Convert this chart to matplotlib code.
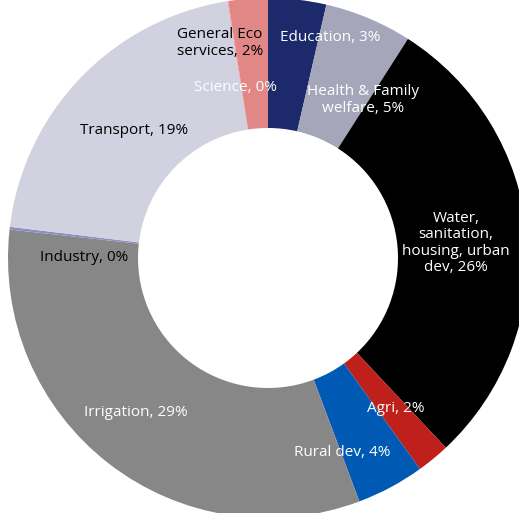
import matplotlib
matplotlib.use("Agg")
import matplotlib.pyplot as plt

# sectors, clockwise from 12 o'clock
sectors = ["Education", "Health & Family\nwelfare", "Water,\nsanitation,\nhousing, urban\ndev",
           "Agri", "Rural dev", "Irrigation", "Industry", "Transport", "Science",
           "General Eco\nservices"]
shares = [3.25, 4.9, 26.1, 1.85, 3.8, 29.25, 0.15, 18.55, 0.05, 2.2]

colors = ["#1c2a6c", "#a6a6ba", "#000000", "#c0201b", "#005ab4", "#878787",
          "#8a8fbf", "#d1d1e0", "#e8a0a0", "#e18785"]
text_colors = ["white", "white", "white", "white", "white", "white",
               "black", "black", "white", "black"]
# label centres in pixels of the 519x513 picture
label_px = [(330, 37), (363, 100), (456, 243), (396, 408), (342, 452),
            (136, 413), (84, 257), (134, 130), (235, 87), (220, 43)]

W, H = 519, 513
cx, cy, R = 268, 258, 260

plt.rcParams['font.family'] = ['Open Sans', 'DejaVu Sans']

fig = plt.figure(figsize=(W / 100, H / 100), dpi=100)
ax = fig.add_axes([(cx - R) / W, (H - cy - R) / H, 2 * R / W, 2 * R / H])
ax.pie(shares, colors=colors, startangle=90, counterclock=False, radius=1,
       wedgeprops=dict(width=0.5, linewidth=0))
ax.set_xlim(-1, 1)
ax.set_ylim(-1, 1)
ax.set_axis_off()

for name, v, (px, py), tc in zip(sectors, shares, label_px, text_colors):
    ax.text((px - cx) / R, (cy - py) / R, "%s, %d%%" % (name, round(v)),
            color=tc, ha="center", va="center", fontsize=11,
            linespacing=1.1, multialignment="center")

fig.savefig("out.png", dpi=100)
